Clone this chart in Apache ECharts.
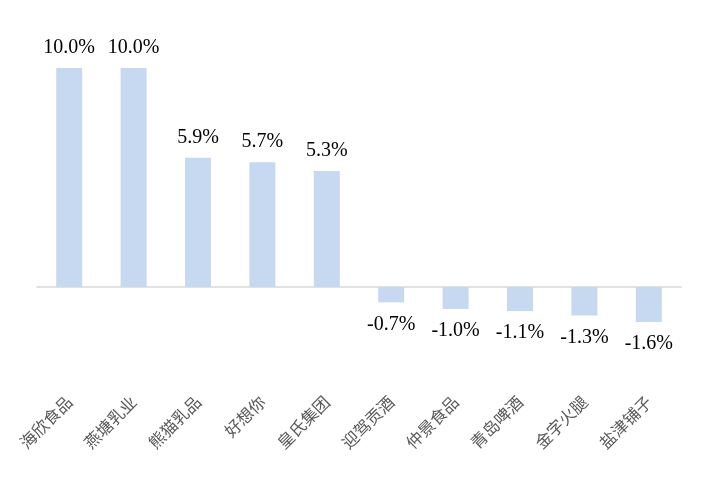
<!DOCTYPE html>
<html><head><meta charset="utf-8">
<script src="https://cdn.jsdelivr.net/npm/echarts@6/dist/echarts.min.js"></script>
<style>html,body{margin:0;padding:0;background:#fff}#c{width:702px;height:478px}</style>
</head><body><div id="c"></div>
<script>
const categories = ['海欣食品','燕塘乳业','熊猫乳品','好想你','皇氏集团','迎驾贡酒','仲景食品','青岛啤酒','金字火腿','盐津铺子'];
const values = [10.0, 10.0, 5.9, 5.7, 5.3, -0.7, -1.0, -1.1, -1.3, -1.6];

const chart = echarts.init(document.getElementById('c'));
chart.setOption({
  animation: false,
  grid: { left: 37, right: 21, top: 68, height: 262.8, outerBoundsMode: 'none', containLabel: false },
  xAxis: {
    type: 'category',
    data: categories,
    axisLine: { onZero: true, lineStyle: { color: '#D9D9D9', width: 1.5 } },
    axisTick: { show: false },
    axisLabel: {
      interval: 0, rotate: 45, margin: 68,
      color: '#595959', fontSize: 16.5,
      fontFamily: '"Noto Sans CJK SC", sans-serif'
    }
  },
  yAxis: { type: 'value', min: -2, max: 10, show: false, splitLine: { show: false } },
  series: [{
    type: 'bar',
    data: values.map(v => ({
      value: v,
      label: { position: v >= 0 ? 'top' : 'bottom', distance: v >= 0 ? 10 : 12 }
    })),
    barWidth: 26,
    itemStyle: { color: '#C6D9F1' },
    label: {
      show: true,
      formatter: p => p.value.toFixed(1) + '%',
      color: '#000', fontSize: 20,
      fontFamily: '"Liberation Serif", "Times New Roman", serif'
    }
  }]
});
</script></body></html>
